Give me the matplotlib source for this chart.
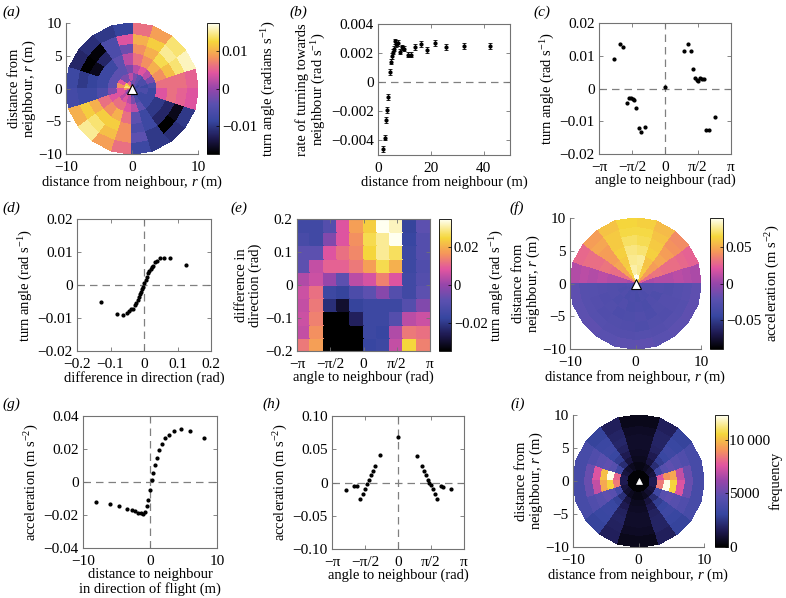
import numpy as np
import matplotlib
matplotlib.use('Agg')
import matplotlib.pyplot as plt
from matplotlib.colors import LinearSegmentedColormap

plt.rcParams['font.family'] = 'Liberation Serif'
plt.rcParams['font.size'] = 10.5
plt.rcParams['xtick.labelsize'] = 11
plt.rcParams['ytick.labelsize'] = 11
plt.rcParams['mathtext.fontset'] = 'custom'
plt.rcParams['mathtext.rm'] = 'Liberation Serif'
plt.rcParams['mathtext.it'] = 'Liberation Serif:italic'

# ---- data -------------------------------------------------------------
# (a) turn angle, rows = 18 deg sectors (from +x, ccw), cols = rings
a_rings = [0, 1.3, 2.5, 3.8, 5.5, 7, 8.5, 10]
a_vals = [
    [-0.006, -0.008, -0.006, 0.006, 0.006, 0.006, 0.005],
    [-0.008, -0.006, -0.002, 0.008, 0.011, 0.014, 0.016],
    [-0.006, -0.006, 0.002, 0.010, 0.013, 0.015, 0.014],
    [-0.004, -0.004, 0.004, 0.008, 0.010, 0.012, 0.009],
    [-0.002, -0.002, 0.002, 0.006, 0.008, 0.010, 0.006],
    [-0.003, 0.002, -0.002, 0.002, -0.003, 0.004, -0.009],
    [0.004, -0.002, -0.004, -0.004, -0.006, -0.006, -0.010],
    [0.006, -0.002, -0.004, -0.008, -0.012, -0.017, -0.011],
    [0.012, 0.004, -0.004, -0.008, -0.016, -0.020, -0.012],
    [0.014, 0.008, -0.004, -0.008, -0.009, -0.010, -0.008],
    [0.008, 0.004, -0.002, -0.006, -0.008, -0.008, -0.007],
    [0.002, 0.004, 0.004, 0.006, 0.010, 0.012, 0.010],
    [-0.002, 0.002, 0.006, 0.008, 0.012, 0.014, 0.015],
    [0.002, 0.004, 0.006, 0.010, 0.012, 0.011, 0.009],
    [0.004, 0.002, 0.004, 0.006, 0.008, 0.008, 0.006],
    [-0.006, -0.002, 0.002, -0.004, -0.006, -0.004, -0.008],
    [-0.008, -0.006, -0.004, -0.008, -0.008, -0.010, -0.010],
    [-0.008, -0.008, -0.008, -0.010, -0.012, -0.018, -0.011],
    [-0.006, -0.008, -0.008, -0.010, -0.012, -0.016, -0.010],
    [-0.006, -0.006, -0.008, 0.004, 0.006, 0.005, 0.004],
]

# (b) rate of turning towards neighbour vs distance
b_dist = [1.9, 2.6, 3.1, 3.5, 3.9, 4.4, 4.8, 5.2, 5.6, 6.0, 6.6, 7.0, 7.5,
          8.2, 9.0, 10.0, 11.3, 12.5, 14.2, 16.2, 18.4, 21.6, 25.9, 32.4, 42.3]
b_rate = [-0.0046, -0.0038, -0.0026, -0.0019, -0.0010, 0.0007, 0.0014,
          0.0018, 0.0021, 0.0023, 0.0028, 0.0026, 0.0027, 0.0021, 0.0024,
          0.0023, 0.0019, 0.0019, 0.0024, 0.0026, 0.0022, 0.0027, 0.0024,
          0.0025, 0.0025]
b_err = [0.00022, 0.0002, 0.0002, 0.0002, 0.0002, 0.00018, 0.00018, 0.00018,
         0.00018, 0.00018, 0.0002, 0.00018, 0.00018, 0.00018, 0.00018,
         0.00018, 0.00018, 0.00018, 0.0002, 0.0002, 0.0002, 0.0002, 0.0002,
         0.0002, 0.0002]

# (c) turn angle vs angle to neighbour
c_angle = [-2.43, -2.13, -1.99, -1.83, -1.73, -1.64, -1.54, -1.46, -1.37,
           -1.26, -1.15, -0.94, 0.0, 0.91, 1.08, 1.23, 1.34, 1.43, 1.53,
           1.59, 1.68, 1.78, 1.86, 1.94, 2.10, 2.38]
c_turn = [0.0091, 0.0135, 0.0128, -0.0044, -0.0029, -0.0030, -0.0032,
          -0.0034, -0.0059, -0.0120, -0.0134, -0.0117, 0.0004, 0.0115,
          0.0137, 0.0115, 0.0060, 0.0033, 0.0026, 0.0023, 0.0032, 0.0030,
          0.0030, -0.0128, -0.0128, -0.0088]

# (d) turn angle vs difference in direction
d_diff = [-0.127, -0.080, -0.062, -0.052, -0.044, -0.038, -0.034, -0.028,
          -0.024, -0.019, -0.015, -0.012, -0.008, -0.005, -0.002, 0.001,
          0.005, 0.008, 0.012, 0.016, 0.020, 0.024, 0.028, 0.034, 0.040,
          0.048, 0.059, 0.078, 0.126]
d_turn = [-0.0050, -0.0089, -0.0091, -0.0084, -0.0079, -0.0074, -0.0073,
          -0.0061, -0.0056, -0.0046, -0.0037, -0.0028, -0.0020, -0.0013,
          -0.0005, 0.0005, 0.0015, 0.0025, 0.0035, 0.0042, 0.0050, 0.0055,
          0.0058, 0.0071, 0.0074, 0.0081, 0.0083, 0.0083, 0.0061]

# (e) turn angle, rows = difference in direction (low -> high),
#     cols = angle to neighbour (-pi -> pi)
e_vals = [
    [0.013, 0.018, -0.040, -0.038, -0.038, -0.017, -0.016, 0.005, 0.025, 0.014],
    [0.005, 0.016, -0.040, -0.040, -0.038, -0.016, -0.017, 0.003, 0.013, 0.012],
    [0.006, 0.014, -0.035, -0.037, -0.025, -0.016, -0.016, -0.010, 0.004, 0.006],
    [0.005, 0.013, -0.022, -0.030, -0.018, -0.016, -0.016, -0.016, -0.010, -0.003],
    [0.006, 0.012, -0.016, -0.018, -0.012, -0.008, -0.002, -0.010, -0.015, -0.008],
    [0.003, 0.006, 0.000, -0.008, 0.004, 0.007, 0.014, 0.008, -0.015, -0.010],
    [-0.008, 0.005, 0.010, 0.010, 0.013, 0.018, 0.026, 0.020, -0.016, -0.011],
    [-0.008, -0.008, 0.008, 0.012, 0.015, 0.025, 0.030, 0.027, -0.016, -0.010],
    [-0.013, -0.015, -0.003, 0.008, 0.016, 0.026, 0.030, 0.035, -0.017, -0.010],
    [-0.015, -0.015, -0.010, 0.008, 0.018, 0.024, 0.035, 0.032, -0.018, -0.008],
]

# (f) acceleration, rows = 18 deg sectors, cols = rings
f_rings = [0, 1.5, 3, 4.5, 6, 7.5, 8.75, 10]
f_vals = [
    [0.004, 0.006, 0.008, 0.008, 0.010, 0.008, 0.006],
    [0.025, 0.030, 0.032, 0.030, 0.030, 0.028, 0.026],
    [0.045, 0.045, 0.045, 0.048, 0.045, 0.042, 0.040],
    [0.062, 0.060, 0.058, 0.062, 0.060, 0.058, 0.055],
    [0.090, 0.076, 0.078, 0.072, 0.068, 0.066, 0.062],
    [0.090, 0.080, 0.076, 0.074, 0.070, 0.066, 0.064],
    [0.062, 0.062, 0.060, 0.062, 0.060, 0.060, 0.058],
    [0.045, 0.048, 0.048, 0.045, 0.045, 0.048, 0.045],
    [0.030, 0.030, 0.030, 0.032, 0.030, 0.030, 0.028],
    [0.005, 0.008, 0.008, 0.010, 0.008, 0.010, 0.008],
    [-0.026, -0.028, -0.027, -0.026, -0.025, -0.024, -0.020],
    [-0.028, -0.029, -0.027, -0.028, -0.026, -0.024, -0.021],
    [-0.030, -0.028, -0.029, -0.027, -0.028, -0.025, -0.020],
    [-0.030, -0.031, -0.028, -0.030, -0.027, -0.026, -0.022],
    [-0.032, -0.030, -0.031, -0.029, -0.028, -0.026, -0.021],
    [-0.031, -0.032, -0.030, -0.028, -0.029, -0.025, -0.020],
    [-0.030, -0.029, -0.031, -0.030, -0.027, -0.026, -0.022],
    [-0.029, -0.030, -0.028, -0.027, -0.028, -0.024, -0.021],
    [-0.028, -0.027, -0.029, -0.026, -0.026, -0.025, -0.020],
    [-0.026, -0.027, -0.026, -0.027, -0.025, -0.023, -0.020],
]

# (g) acceleration vs distance to neighbour in direction of flight
g_dist = [-8.1, -5.9, -4.6, -3.5, -2.7, -2.25, -1.8, -1.4, -1.1, -0.8, -0.5,
          -0.25, 0.0, 0.25, 0.5, 0.75, 1.0, 1.35, 1.8, 2.2, 2.85, 3.6, 4.6,
          6.0, 8.1]
g_acc = [-0.0121, -0.0131, -0.0145, -0.0165, -0.0167, -0.0173, -0.0185,
         -0.0187, -0.0195, -0.0181, -0.0147, -0.0109, -0.0050, 0.0010,
         0.0056, 0.0105, 0.0145, 0.0193, 0.0231, 0.0265, 0.0285, 0.0310,
         0.0322, 0.0310, 0.0267]

# (h) acceleration vs angle to neighbour
h_angle = [-2.46, -2.08, -1.95, -1.79, -1.68, -1.59, -1.49, -1.40, -1.30,
           -1.19, -1.08, -0.86, 0.0, 0.90, 1.13, 1.24, 1.33, 1.41, 1.49,
           1.59, 1.67, 1.76, 1.86, 2.03, 2.16, 2.52]
h_acc = [-0.0115, -0.0060, -0.0050, -0.0250, -0.0180, -0.0105, -0.0025,
         0.0045, 0.0110, 0.0170, 0.0250, 0.0410, 0.0680, 0.0395, 0.0255,
         0.0170, 0.0110, 0.0045, 0.0000, -0.0040, -0.0100, -0.0180,
         -0.0250, -0.0060, -0.0070, -0.0105]

# (i) frequency, rows = 18 deg sectors, cols = rings
i_rings = [0, 1.8, 3, 4, 5, 6, 7.2, 8.5, 10]
i_vals = [
    [100, 1500, 7500, 9000, 9500, 7000, 5000, 3800],
    [100, 1200, 3500, 4500, 4800, 4500, 4200, 3800],
    [100, 900, 2200, 2800, 3200, 3400, 3200, 3000],
    [100, 600, 1200, 1500, 1800, 1900, 1900, 1700],
    [100, 400, 600, 700, 800, 800, 700, 500],
    [100, 400, 600, 700, 800, 800, 700, 500],
    [100, 600, 1200, 1500, 1800, 2000, 1900, 1700],
    [100, 900, 2200, 2800, 3200, 3400, 3300, 3000],
    [100, 1200, 3500, 4500, 4800, 4600, 4200, 3800],
    [100, 1500, 8000, 12200, 10000, 7500, 5000, 3800],
    [100, 1500, 8500, 10500, 9500, 7000, 5000, 3800],
    [100, 1200, 3600, 4600, 4800, 4500, 4200, 3800],
    [100, 900, 2300, 2900, 3200, 3300, 3200, 3000],
    [100, 600, 1200, 1500, 1800, 1900, 1800, 1700],
    [100, 400, 600, 700, 800, 800, 700, 500],
    [100, 400, 600, 700, 800, 800, 700, 500],
    [100, 600, 1200, 1500, 1800, 1900, 1900, 1700],
    [100, 900, 2200, 2800, 3200, 3400, 3200, 3000],
    [100, 1200, 3500, 4600, 4800, 4500, 4200, 3800],
    [100, 1500, 8500, 12200, 10500, 7500, 5000, 3800],
]

pi_ticks = [-np.pi, -np.pi / 2, 0, np.pi / 2, np.pi]
pi_labels = ['\u2212\u03c0', '\u2212\u03c0/2', '0', '\u03c0/2', '\u03c0']

# ---- styling ------------------------------------------------------------
cmap = LinearSegmentedColormap.from_list('turn', [
    (0.00, '#000000'), (0.12, '#1e1950'), (0.25, '#3746a0'),
    (0.38, '#5a50af'), (0.50, '#9646aa'), (0.62, '#e155a0'),
    (0.74, '#f5965a'), (0.86, '#f5d73c'), (1.00, '#fffff0')])

W, H = 786.0, 598.0
SPINE = '0.45'
DASH = dict(color='0.5', ls=(0, (6, 4)), lw=0.9, zorder=0)


def box(l, t, r, b):
    return [l / W, 1 - b / H, (r - l) / W, (b - t) / H]


def style(ax, box_on=True):
    for s in ax.spines.values():
        s.set_color(SPINE)
        s.set_linewidth(0.8)
    ax.tick_params(direction='in', length=3, width=0.6, color=SPINE,
                   top=box_on, right=box_on)
    ax.tick_params(axis='x', pad=5)
    ax.tick_params(axis='y', pad=3)


def polar_panel(ax, cax, rings, vals, vmin, vmax):
    th = np.deg2rad(np.arange(0, 361, 18))
    R, T = np.meshgrid(rings, th)
    m = ax.pcolormesh(R * np.cos(T), R * np.sin(T), np.array(vals),
                      cmap=cmap, vmin=vmin, vmax=vmax, shading='flat',
                      edgecolors='face', linewidth=0.3)
    ax.set_xlim(-10, 10)
    ax.set_ylim(-10, 10)
    ax.set_xticks([-10, 0, 10])
    ax.set_xticklabels(['\u221210', '0', '10'])
    ax.set_yticks([-10, -5, 0, 5, 10])
    ax.set_yticklabels(['\u221210', '\u22125', '0', '5', '10'])
    ax.spines['top'].set_visible(False)
    ax.spines['right'].set_visible(False)
    style(ax, box_on=False)
    ax.set_xlabel('distance from neighbour, $r$ (m)', labelpad=0)
    ax.set_ylabel('distance from\nneighbour, $r$ (m)', labelpad=0,
                  linespacing=1.0)
    cb = fig.colorbar(m, cax=cax)
    cb.outline.set_linewidth(0.6)
    cax.tick_params(direction='in', length=2, width=0.5, pad=2)
    return cb


fig = plt.figure(figsize=(7.86, 5.98), dpi=100)

# (a)
ax = fig.add_axes(box(66, 23, 198, 154))
cax = fig.add_axes(box(207, 23, 219, 154))
cb = polar_panel(ax, cax, a_rings, a_vals, -0.0175, 0.0175)
cb.set_ticks([-0.01, 0, 0.01])
cb.set_ticklabels(['\u22120.01', '0', '0.01'])
cb.set_label('turn angle (radians s$^{-1}$)', labelpad=2)
ax.plot(0, 0, marker='^', ms=6.5, mfc='white', mec='black', mew=0.8)

# (b)
ax = fig.add_axes(box(378, 24, 510, 155))
ax.axhline(0, **DASH)
ax.errorbar(b_dist, b_rate, yerr=b_err, fmt='o', ms=2, color='black',
            elinewidth=0.6, capsize=1.2, capthick=0.6)
ax.set_xlim(0, 50)
ax.set_ylim(-0.005, 0.004)
ax.set_xticks([0, 20, 40])
ax.set_yticks([-0.004, -0.002, 0, 0.002, 0.004])
ax.set_yticklabels(['\u22120.004', '\u22120.002', '0', '0.002', '0.004'])
style(ax)
ax.set_xlabel('distance from neighbour (m)', labelpad=0)
ax.set_ylabel('rate of turning towards\nneighbour (rad s$^{-1}$)', labelpad=2,
              linespacing=1.1)

# (c)
ax = fig.add_axes(box(599, 23, 731, 154))
ax.axhline(0, **DASH)
ax.axvline(0, **DASH)
ax.plot(c_angle, c_turn, 'o', ms=2, color='black')
ax.set_xlim(-np.pi, np.pi)
ax.set_ylim(-0.02, 0.02)
ax.set_xticks(pi_ticks)
ax.set_xticklabels(pi_labels)
ax.set_yticks([-0.02, -0.01, 0, 0.01, 0.02])
ax.set_yticklabels(['\u22120.02', '\u22120.01', '0', '0.01', '0.02'])
style(ax)
ax.set_xlabel('angle to neighbour (rad)', labelpad=0)
ax.set_ylabel('turn angle (rad s$^{-1}$)', labelpad=2)

# (d)
ax = fig.add_axes(box(77, 219, 211, 351))
ax.axhline(0, **DASH)
ax.axvline(0, **DASH)
ax.plot(d_diff, d_turn, 'o', ms=2, color='black')
ax.set_xlim(-0.2, 0.2)
ax.set_ylim(-0.02, 0.02)
ax.set_xticks([-0.2, -0.1, 0, 0.1, 0.2])
ax.set_xticklabels(['\u22120.2', '\u22120.1', '0', '0.1', '0.2'])
ax.set_yticks([-0.02, -0.01, 0, 0.01, 0.02])
ax.set_yticklabels(['\u22120.02', '\u22120.01', '0', '0.01', '0.02'])
style(ax)
ax.set_xlabel('difference in direction (rad)', labelpad=0)
ax.set_ylabel('turn angle (rad s$^{-1}$)', labelpad=2)

# (e)
ax = fig.add_axes(box(297, 219, 430, 351))
cax = fig.add_axes(box(439, 219, 451, 351))
xe = np.linspace(-np.pi, np.pi, 11)
ye = np.linspace(-0.2, 0.2, 11)
m = ax.pcolormesh(xe, ye, np.array(e_vals), cmap=cmap, vmin=-0.035,
                  vmax=0.035, edgecolors='face', linewidth=0.2)
ax.set_xticks(pi_ticks)
ax.set_xticklabels(pi_labels)
ax.set_yticks([-0.2, -0.1, 0, 0.1, 0.2])
ax.set_yticklabels(['\u22120.2', '\u22120.1', '0', '0.1', '0.2'])
style(ax)
ax.set_xlabel('angle to neighbour (rad)', labelpad=0)
ax.set_ylabel('difference in\ndirection (rad)', labelpad=2, linespacing=1.1)
cb = fig.colorbar(m, cax=cax)
cb.outline.set_linewidth(0.6)
cax.tick_params(direction='in', length=2, width=0.5, pad=2, labelsize=10.5)
cb.set_ticks([-0.02, 0, 0.02])
cb.set_ticklabels(['\u22120.02', '0', '0.02'])
cb.set_label('turn angle (rad s$^{-1}$)', labelpad=0)

# (f)
ax = fig.add_axes(box(570, 218, 701, 349))
cax = fig.add_axes(box(710, 218, 723, 349))
cb = polar_panel(ax, cax, f_rings, f_vals, -0.09, 0.09)
cb.set_ticks([-0.05, 0, 0.05])
cb.set_ticklabels(['\u22120.05', '0', '0.05'])
cb.set_label('acceleration (m s$^{-2}$)', labelpad=2)
ax.plot(0, 0, marker='^', ms=6.5, mfc='white', mec='black', mew=0.8)

# (g)
ax = fig.add_axes(box(83, 416, 217, 548))
ax.axhline(0, **DASH)
ax.axvline(0, **DASH)
ax.plot(g_dist, g_acc, 'o', ms=2, color='black')
ax.set_xlim(-10, 10)
ax.set_ylim(-0.04, 0.04)
ax.set_xticks([-10, 0, 10])
ax.set_xticklabels(['\u221210', '0', '10'])
ax.set_yticks([-0.04, -0.02, 0, 0.02, 0.04])
ax.set_yticklabels(['\u22120.04', '\u22120.02', '0', '0.02', '0.04'])
style(ax)
ax.set_xlabel('distance to neighbour\nin direction of flight (m)', labelpad=0,
              linespacing=1.1)
ax.set_ylabel('acceleration (m s$^{-2}$)', labelpad=2)

# (h)
ax = fig.add_axes(box(332, 416, 464, 549))
ax.axhline(0, **DASH)
ax.axvline(0, **DASH)
ax.plot(h_angle, h_acc, 'o', ms=2, color='black')
ax.set_xlim(-np.pi, np.pi)
ax.set_ylim(-0.1, 0.1)
ax.set_xticks(pi_ticks)
ax.set_xticklabels(pi_labels)
ax.set_yticks([-0.1, -0.05, 0, 0.05, 0.1])
ax.set_yticklabels(['\u22120.10', '\u22120.05', '0', '0.05', '0.10'])
style(ax)
ax.set_xlabel('angle to neighbour (rad)', labelpad=0)
ax.set_ylabel('acceleration (m s$^{-2}$)', labelpad=2)

# (i)
ax = fig.add_axes(box(573, 415, 704, 547))
cax = fig.add_axes(box(715, 415, 728, 547))
cb = polar_panel(ax, cax, i_rings, i_vals, 0, 12300)
cb.set_ticks([0, 5000, 10000])
cb.set_ticklabels(['0', '5000', '10\u2009000'])
cax.tick_params(pad=1)
cb.set_label('frequency', labelpad=-1)
ax.plot(0, 0, marker='^', ms=4, mfc='white', mec='white', mew=0.5)

for lab, x, y in [('(a)', 2, 12), ('(b)', 289, 12), ('(c)', 533, 12),
                  ('(d)', 2, 208), ('(e)', 230, 208), ('(f)', 509, 208),
                  ('(g)', 2, 404), ('(h)', 262, 404), ('(i)', 510, 404)]:
    fig.text(x / W, 1 - y / H, lab, style='italic', fontsize=11, va='center')

fig.savefig('out.png', dpi=100)
